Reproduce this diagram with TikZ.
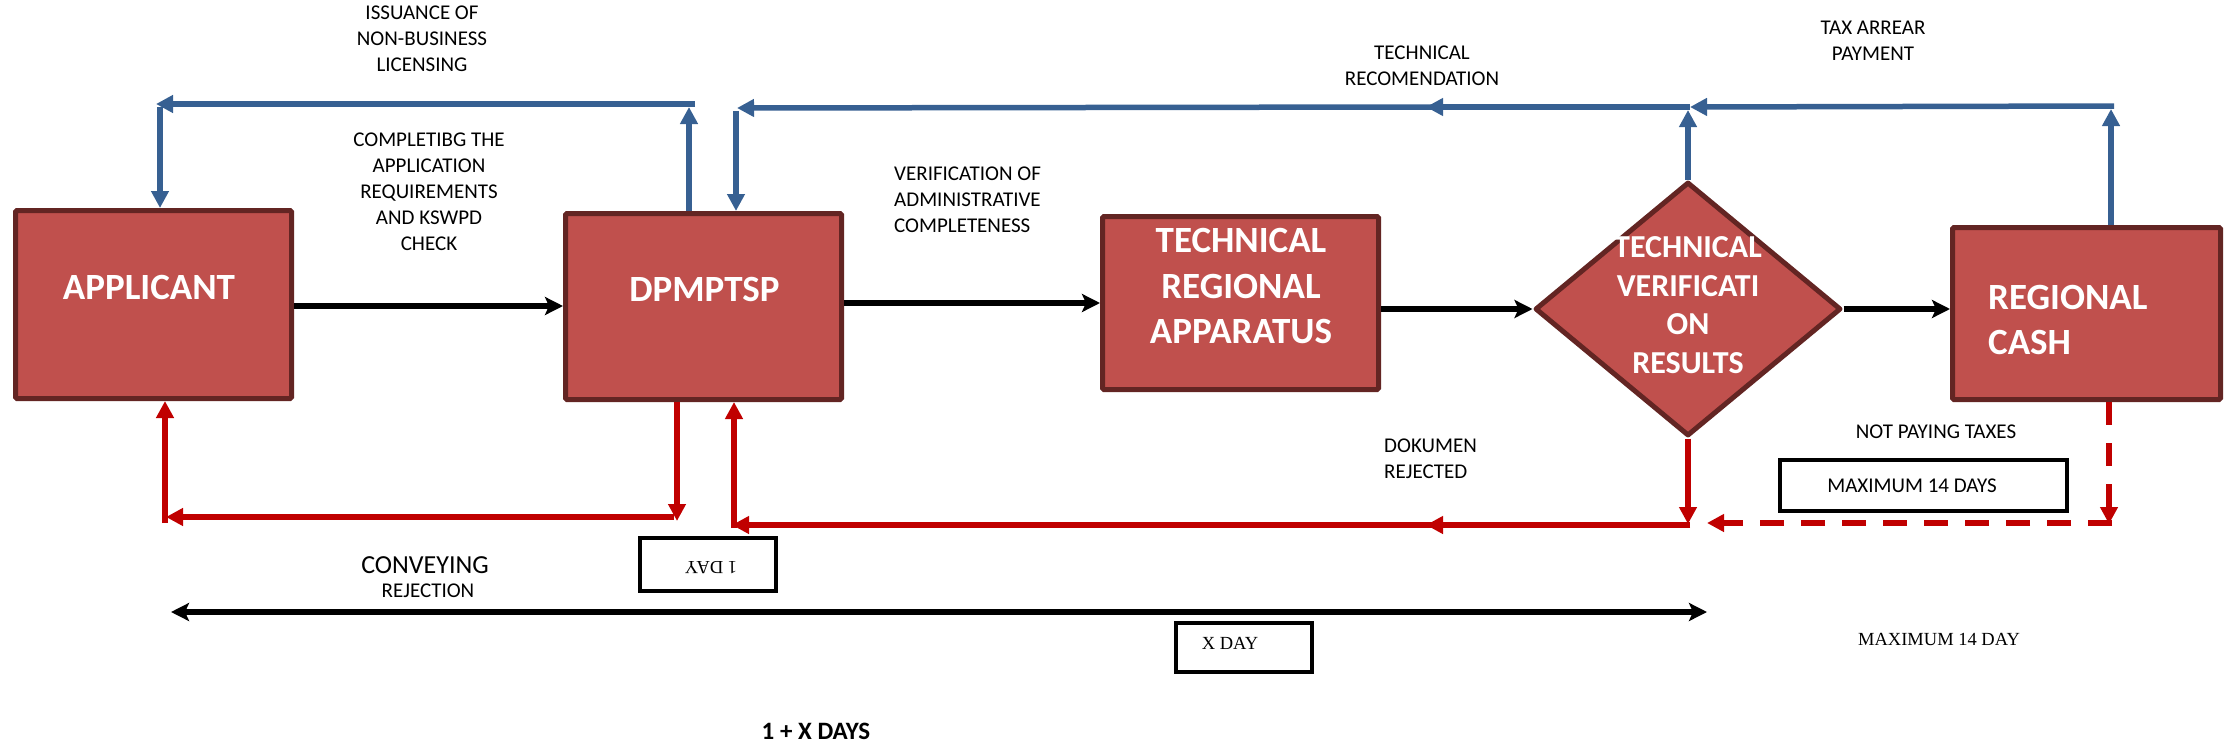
\documentclass[tikz,border=0pt]{standalone}
\usepackage{fontspec}
\setmainfont{Carlito}
\newfontfamily\tnr{Liberation Serif}
\usetikzlibrary{arrows.meta,shapes.geometric}
\definecolor{boxfill}{HTML}{C0504D}
\definecolor{boxline}{HTML}{632523}
\definecolor{flowblue}{HTML}{376092}
\definecolor{flowred}{HTML}{C00000}
\begin{document}
\begin{tikzpicture}[x=1pt,y=-1pt,
  bx/.style={draw=boxline, fill=boxfill, line width=5pt, inner sep=0pt, rounded corners=1.5pt},
  bxtext/.style={text=white, font=\fontsize{37}{45.5}\selectfont\bfseries, align=center, inner sep=0pt},
  lbl/.style={font=\fontsize{21}{26}\selectfont, align=center, inner sep=0pt},
  tbox/.style={draw=black, line width=3.8pt, inner sep=0pt},
  blk/.style={draw=black, line width=6pt, -{Stealth[length=18pt,width=18pt,inset=4pt]}},
  blu/.style={draw=flowblue, line width=5.5pt, -{Triangle[length=17pt,width=17pt]}},
  rd/.style={draw=flowred, line width=5.5pt, -{Triangle[length=17pt,width=17pt]}},
]
\useasboundingbox (0,0) rectangle (2230,744);

% main boxes
\node[bx, minimum width=276pt, minimum height=188pt] (app) at (153.5,304.5) {};
\node[bx, minimum width=276pt, minimum height=186pt] (dp) at (703.5,306.5) {};
\node[bx, minimum width=276pt, minimum height=173pt] (tra) at (1240.5,303) {};
\node[bx, shape=diamond, rounded corners=0pt, line join=round, minimum width=306pt, minimum height=254pt] (dia) at (1688,309) {};
\node[bx, minimum width=268pt, minimum height=172pt] (rc) at (2086.5,313.5) {};

\node[bxtext] (appT) at (149,287) {APPLICANT};
\node[bxtext] (dpT) at (704.5,289) {DPMPTSP};
\node[bxtext] (traT) at (1241,286) {TECHNICAL\\REGIONAL\\APPARATUS};
\node[bxtext, font=\fontsize{32}{38.7}\selectfont\bfseries] (diaT) at (1688,305) {TECHNICAL\\VERIFICATI\\ON\\RESULTS};
\node[bxtext, anchor=west, align=left] (rcT) at (1988,320) {REGIONAL\\CASH};

% black flow arrows
\draw[blk] (app.east |- 0,306) -- (dp.west |- 0,306);
\draw[blk] (dp.east |- 0,303) -- (tra.west |- 0,303);
\draw[blk] (tra.east |- 0,309) -- (dia.west);
\draw[blk] (dia.east) -- (rc.west |- 0,309);

% blue return arrows (top)
\coordinate (b1) at (689,107);
\coordinate (b1r) at (695,104);
\coordinate (b2) at (156,104);
\coordinate (b2d) at (160,107);
\draw[blu] (dp.north -| 689,0) -- (b1);
\draw[blu] (b1r) -- (b2);
\draw[blu] (b2d) -- (app.north -| 160,0);

\coordinate (b3) at (2111,109);
\coordinate (b3l) at (2114,106);
\coordinate (b4) at (1690,107);
\coordinate (b4u) at (1688,110);
\coordinate (b5) at (1426,107);
\coordinate (b5r) at (1432,107);
\coordinate (b6) at (737,108);
\coordinate (b6d) at (736,111);
\draw[blu] (rc.north -| 2111,0) -- (b3);
\draw[blu] (b3l) -- (b4);
\draw[blu] (dia.north) -- (b4u);
\draw[blu] (b4) -- (b5);
\draw[blu] (b5r) -- (b6);
\draw[blu] (b6d) -- (dp.north -| 736,0);

% red rejection arrows (bottom)
\coordinate (r1) at (677,521);
\coordinate (r1l) at (674,517);
\coordinate (r2) at (166,517);
\coordinate (r2u) at (165,523);
\draw[rd] (dp.south -| 677,0) -- (r1);
\draw[rd] (r1l) -- (r2);
\draw[rd] (r2u) -- (app.south -| 165,0);

\coordinate (r3) at (1688,524);
\coordinate (r3l) at (1690,525);
\coordinate (r4) at (1426,525);
\coordinate (r4r) at (1432,525);
\coordinate (r5) at (732,525);
\coordinate (r5u) at (734,528);
\draw[rd] (dia.south) -- (r3);
\draw[rd] (r3l) -- (r4);
\draw[rd] (r4r) -- (r5);
\draw[rd] (r5u) -- (dp.south -| 734,0);

\coordinate (d1) at (2109,524);
\coordinate (d1l) at (2112,523);
\coordinate (d2) at (1707,523);
\draw[rd, dash pattern=on 23pt off 18pt] (rc.south -| 2109,0) -- (d1);
\draw[rd, dash pattern=on 24pt off 17pt] (d1l) -- (d2);

% time line
\coordinate (t1) at (171,612);
\coordinate (t2) at (1707,612);
\draw[blk, {Stealth[length=18pt,width=18pt,inset=4pt]}-{Stealth[length=18pt,width=18pt,inset=4pt]}] (t1) -- (t2);

% duration boxes
\node[tbox, minimum width=136pt, minimum height=53pt] (oneday) at (708,564.5) {};
\node[rotate=180, inner sep=0pt, font=\tnr\fontsize{18.5}{22}\selectfont] (onedayT) at (711,568) {1 DAY};
\node[tbox, minimum width=136pt, minimum height=49pt] (xday) at (1244,647.5) {};
\node[inner sep=0pt, font=\tnr\fontsize{18.5}{22}\selectfont] (xdayT) at (1230,643) {X DAY};
\node[tbox, minimum width=287pt, minimum height=51pt] (max14) at (1923.5,485.5) {};
\node[lbl] (max14T) at (1912,486) {MAXIMUM 14 DAYS};

% labels
\node[lbl] (l1) at (422,39) {ISSUANCE OF\\NON-BUSINESS\\LICENSING};
\node[lbl] (l2) at (429,192) {COMPLETIBG THE\\APPLICATION\\REQUIREMENTS\\AND KSWPD\\CHECK};
\node[lbl, anchor=west, align=left] (l3) at (894,200) {VERIFICATION OF\\ADMINISTRATIVE\\COMPLETENESS};
\node[lbl] (l4) at (1422,66) {TECHNICAL\\RECOMENDATION};
\node[lbl] (l5) at (1873,41) {TAX ARREAR\\PAYMENT};
\node[lbl, anchor=west, align=left] (l6) at (1384,459) {DOKUMEN\\REJECTED};
\node[lbl] (l7) at (1936,432) {NOT PAYING TAXES};
\node[lbl, font=\fontsize{26}{30}\selectfont] (l8) at (425,565) {CONVEYING};
\node[lbl] (l9) at (428,591) {REJECTION};
\node[inner sep=0pt, font=\tnr\fontsize{18.5}{22}\selectfont] (l10) at (1939,639) {MAXIMUM 14 DAY};
\node[inner sep=0pt, font=\fontsize{25}{30}\selectfont\bfseries] (l11) at (816,731) {1 + X DAYS};
\end{tikzpicture}
\end{document}
